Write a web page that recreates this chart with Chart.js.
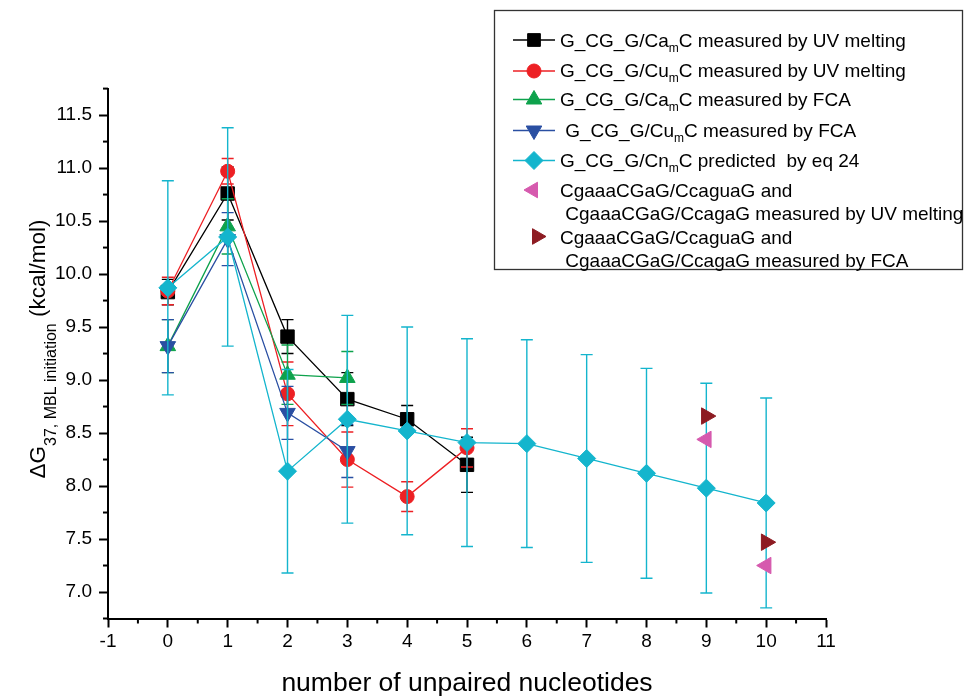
<!DOCTYPE html>
<html><head><meta charset="utf-8">
<style>html,body{margin:0;padding:0;background:#fff;}#wrap{width:964px;height:698px;position:relative;}</style>
<script src="https://cdn.jsdelivr.net/npm/chart.js"></script>
</head><body><div id="wrap"><canvas id="c" width="964" height="698"></canvas></div>
<script>
// ---------- data ----------
const xMin = -1, xMax = 11;
const yMin = 6.75, yMax = 11.75;

const xCaUV = [0, 1, 2, 3, 4, 5];
const caUV = [9.83, 10.76, 9.41, 8.82, 8.63, 8.20];
const caUVErr = [0.12, 0.25, 0.16, 0.25, 0.13, 0.26];

const xCuUV = [0, 1, 2, 3, 4, 5];
const cuUV = [9.84, 10.97, 8.87, 8.25, 7.90, 8.36];
const cuUVErr = [0.13, 0.12, 0.30, 0.26, 0.14, 0.18];

const xCaFCA = [0, 1, 2, 3];
const caFCA = [9.32, 10.45, 9.05, 9.02];
const caFCAErr = [0.25, 0.26, 0.28, 0.25];

const xCuFCA = [0, 1, 2, 3];
const cuFCA = [9.32, 10.33, 8.69, 8.33];
const cuFCAErr = [0.25, 0.25, 0.25, 0.25];

const xPred = [0, 1, 2, 3, 4, 5, 6, 7, 8, 9, 10];
const pred = [9.87, 10.35, 8.14, 8.63, 8.52, 8.41, 8.40, 8.26, 8.12, 7.98, 7.84];
const predErr = [1.01, 1.03, 0.96, 0.98, 0.98, 0.98, 0.98, 0.98, 0.99, 0.99, 0.99];

const xLoop = [9, 10];
const loopUV = [8.44, 7.25];
const loopFCA = [8.66, 7.47];

const legendLabels = [
  ['G_CG_G/Ca_{m}C measured by UV melting'],
  ['G_CG_G/Cu_{m}C measured by UV melting'],
  ['G_CG_G/Ca_{m}C measured by FCA'],
  [' G_CG_G/Cu_{m}C measured by FCA'],
  ['G_CG_G/Cn_{m}C predicted  by eq 24'],
  ['CgaaaCGaG/CcaguaG and', ' CgaaaCGaG/CcagaG measured by UV melting'],
  ['CgaaaCGaG/CcaguaG and', ' CgaaaCGaG/CcagaG measured by FCA']
];
const xTitle = 'number of unpaired nucleotides';
const yTitleParts = [['ΔG', false], ['37, MBL initiation', true], [' (kcal/mol)', false]];

// ---------- styles ----------
const FONT = "'Liberation Sans', Arial, sans-serif";
const styles = [
  {color: '#000000', point: 'rect', r: 9.5, rot: 0, order: 5, line: true},
  {color: '#ed2024', point: 'circle', r: 7, rot: 0, order: 4, line: true},
  {color: '#0ea24c', point: 'triangle', r: 9, rot: 0, order: 3, line: true},
  {color: '#2a4fa2', point: 'triangle', r: 9, rot: 180, order: 2, line: true},
  {color: '#14b5cd', point: 'rectRot', r: 9, rot: 0, order: 1, line: true},
  {color: '#d65aae', point: 'triangle', r: 9.5, rot: -90, order: 0, line: false},
  {color: '#8d1b22', point: 'triangle', r: 9.5, rot: 90, order: 0, line: false}
];
const seriesX = [xCaUV, xCuUV, xCaFCA, xCuFCA, xPred, xLoop, xLoop];
const seriesY = [caUV, cuUV, caFCA, cuFCA, pred, loopUV, loopFCA];
const seriesErr = [caUVErr, cuUVErr, caFCAErr, cuFCAErr, predErr, null, null];

const datasets = seriesY.map((ys, i) => {
  const s = styles[i];
  return {
    label: legendLabels[i].join(' '),
    data: seriesX[i].map((x, k) => ({x: x, y: ys[k]})),
    errors: seriesErr[i],
    borderColor: s.color,
    backgroundColor: s.color,
    borderWidth: 1.3,
    pointStyle: s.point,
    pointRadius: s.r,
    pointHoverRadius: s.r,
    pointRotation: s.rot,
    pointBorderWidth: 1,
    showLine: s.line,
    order: s.order,
    tension: 0
  };
});

const isMajorY = v => Math.abs(v * 2 - Math.round(v * 2)) < 1e-6;
const isMajorX = v => Math.abs(v - Math.round(v)) < 1e-6;

// ---------- helpers ----------
function drawMarker(ctx, style, x, y, r, rot, color) {
  ctx.save();
  ctx.fillStyle = color; ctx.strokeStyle = color; ctx.lineWidth = 1;
  ctx.beginPath();
  if (style === 'rect') {
    const s = r * Math.SQRT1_2; ctx.rect(x - s, y - s, 2 * s, 2 * s);
  } else if (style === 'circle') {
    ctx.arc(x, y, r, 0, Math.PI * 2);
  } else if (style === 'rectRot') {
    ctx.moveTo(x, y - r); ctx.lineTo(x + r, y); ctx.lineTo(x, y + r); ctx.lineTo(x - r, y); ctx.closePath();
  } else {
    const a0 = rot * Math.PI / 180;
    for (let k = 0; k < 3; k++) {
      const a = a0 + k * 2 * Math.PI / 3;
      const px = x + Math.sin(a) * r, py = y - Math.cos(a) * r;
      if (k === 0) ctx.moveTo(px, py); else ctx.lineTo(px, py);
    }
    ctx.closePath();
  }
  ctx.fill(); ctx.stroke();
  ctx.restore();
}

function drawRichText(ctx, text, x, y, size, subSize, subDy) {
  const parts = text.split(/_\{([^}]*)\}/);
  let cx = x;
  parts.forEach((p, i) => {
    const sub = i % 2 === 1;
    ctx.font = (sub ? subSize : size) + 'px ' + FONT;
    ctx.fillText(p, cx, sub ? y + subDy : y);
    cx += ctx.measureText(p).width;
  });
}

// ---------- plugins ----------
const errorBars = {
  id: 'errorBars',
  beforeDatasetDraw(chart, args) {
    const ds = chart.data.datasets[args.index];
    if (!ds.errors) return;
    const ctx = chart.ctx, xs = chart.scales.x, ys = chart.scales.y;
    ctx.save();
    ctx.strokeStyle = ds.borderColor;
    ctx.lineWidth = 1.4;
    ds.data.forEach((p, i) => {
      const e = ds.errors[i];
      const px = xs.getPixelForValue(p.x);
      const t = ys.getPixelForValue(p.y + e), b = ys.getPixelForValue(p.y - e);
      ctx.beginPath();
      ctx.moveTo(px, t); ctx.lineTo(px, b);
      ctx.moveTo(px - 6, t); ctx.lineTo(px + 6, t);
      ctx.moveTo(px - 6, b); ctx.lineTo(px + 6, b);
      ctx.stroke();
    });
    ctx.restore();
  }
};

const decorations = {
  id: 'decorations',
  afterDraw(chart) {
    const ctx = chart.ctx, xs = chart.scales.x, ys = chart.scales.y, ca = chart.chartArea;
    // minor ticks
    ctx.save();
    ctx.strokeStyle = '#000'; ctx.lineWidth = 2;
    xs.ticks.forEach(t => {
      if (isMajorX(t.value)) return;
      const px = xs.getPixelForValue(t.value);
      ctx.beginPath(); ctx.moveTo(px, ca.bottom); ctx.lineTo(px, ca.bottom + 5); ctx.stroke();
    });
    ys.ticks.forEach(t => {
      if (isMajorY(t.value)) return;
      const py = ys.getPixelForValue(t.value);
      ctx.beginPath(); ctx.moveTo(ca.left, py); ctx.lineTo(ca.left - 5, py); ctx.stroke();
    });
    ctx.restore();

    // y-axis title with subscript
    ctx.save();
    ctx.fillStyle = '#000';
    ctx.textBaseline = 'alphabetic';
    let total = 0;
    yTitleParts.forEach(([t, sub]) => { ctx.font = (sub ? 16 : 22.5) + 'px ' + FONT; total += ctx.measureText(t).width; });
    ctx.translate(45, 349 + total / 2);
    ctx.rotate(-Math.PI / 2);
    let cx = 0;
    yTitleParts.forEach(([t, sub]) => {
      ctx.font = (sub ? 16 : 22.5) + 'px ' + FONT;
      ctx.fillText(t, cx, sub ? 11 : 0);
      cx += ctx.measureText(t).width;
    });
    ctx.restore();

    // legend
    ctx.save();
    ctx.strokeStyle = '#333'; ctx.lineWidth = 1.3;
    ctx.strokeRect(494.5, 10.5, 468, 259);
    ctx.fillStyle = '#000';
    ctx.textBaseline = 'alphabetic';
    const markerY = [40, 71, 99.5, 130.5, 160.5, 190, 236.5];
    const textY = [[47], [77], [106], [137], [167], [197, 220], [244, 267]];
    const markerX = [534, 534, 534, 534, 534, 533, 537];
    legendLabels.forEach((lines, i) => {
      const s = styles[i];
      if (s.line) {
        ctx.save();
        ctx.strokeStyle = s.color; ctx.lineWidth = 1.3;
        ctx.beginPath(); ctx.moveTo(513, markerY[i]); ctx.lineTo(555, markerY[i]); ctx.stroke();
        ctx.restore();
      }
      drawMarker(ctx, s.point, markerX[i], markerY[i], s.point === 'rect' ? 9 : (s.point === 'circle' ? 7 : 9), s.rot, s.color);
      ctx.fillStyle = '#000';
      lines.forEach((ln, k) => drawRichText(ctx, ln, 560, textY[i][k], 19, 12, 5));
    });
    ctx.restore();
  }
};

new Chart(document.getElementById('c'), {
  type: 'scatter',
  data: {datasets: datasets},
  options: {
    responsive: false,
    animation: false,
    events: [],
    layout: {padding: {left: 0, top: 88.6, right: 138, bottom: 0}},
    plugins: {legend: {display: false}, tooltip: {enabled: false}, title: {display: false}},
    scales: {
      x: {
        type: 'linear', min: xMin, max: xMax,
        afterFit: s => { s.height = 79.5; },
        border: {display: true, color: '#000', width: 2},
        grid: {
          display: true, drawOnChartArea: false, drawTicks: true, tickLength: 9, tickWidth: 2,
          tickColor: c => (c.tick && isMajorX(c.tick.value)) ? '#000' : 'rgba(0,0,0,0)'
        },
        ticks: {
          stepSize: 0.5, autoSkip: false, maxRotation: 0, padding: 3, color: '#000',
          font: {family: FONT, size: 19},
          callback: v => isMajorX(v) ? String(Math.round(v)) : ''
        },
        title: {display: true, text: xTitle, color: '#000', font: {family: FONT, size: 26.5, lineHeight: 1.1}, padding: {top: 0, bottom: 0}}
      },
      y: {
        type: 'linear', min: yMin, max: yMax,
        afterFit: s => { s.width = 108; },
        border: {display: true, color: '#000', width: 2},
        grid: {
          display: true, drawOnChartArea: false, drawTicks: true, tickLength: 9, tickWidth: 2,
          tickColor: c => (c.tick && isMajorY(c.tick.value)) ? '#000' : 'rgba(0,0,0,0)'
        },
        ticks: {
          stepSize: 0.25, autoSkip: false, padding: 7, color: '#000',
          font: {family: FONT, size: 19},
          callback: v => isMajorY(v) ? v.toFixed(1) : ''
        }
      }
    }
  },
  plugins: [errorBars, decorations]
});
</script>
</body></html>
